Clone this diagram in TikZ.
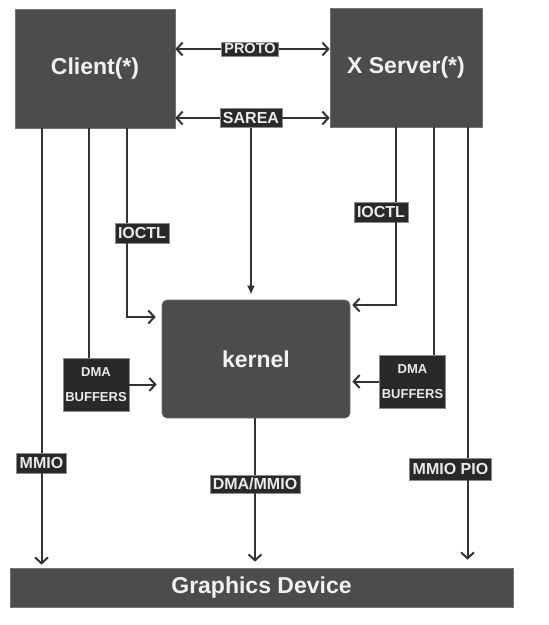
\documentclass[tikz,border=0pt]{standalone}
\usepackage{fontspec}
\setmainfont{Liberation Sans}
\usetikzlibrary{arrows.meta}

\begin{document}
\begin{tikzpicture}[x=1pt, y=-1pt, >={Straight Barb[length=6pt,width=13pt]},
  wire/.style={line width=2pt, black!80},
  bigbox/.style={draw=black!55, line width=0.6pt, fill=black!70, text=white!95!black, font=\bfseries\fontsize{23}{26}\selectfont, inner sep=0pt},
  tag/.style={fill=black!84, draw=black!45, line width=0.5pt, text=white!92!black, font=\bfseries\fontsize{16}{18}\selectfont, inner xsep=3pt, inner ysep=0pt, minimum height=19pt},
  buf/.style={fill=black!84, draw=black!45, line width=0.5pt, text=white!92!black, font=\bfseries\fontsize{13}{25}\selectfont, align=center, inner sep=0pt, minimum width=66pt, minimum height=53pt}]
\useasboundingbox (0,0) rectangle (549,625);

% Main boxes
\node[bigbox, minimum width=160pt, minimum height=119pt] (client) at (95,68.5) {Client(*)};
\node[bigbox, minimum width=152pt, minimum height=119pt] (server) at (406,67.5) {X Server(*)};
\node[bigbox, rounded corners=5pt, minimum width=188pt, minimum height=118pt] (kernel) at (256,359) {kernel};
\node[bigbox, minimum width=503pt, minimum height=39pt] (gfx) at (261.5,587.5) {Graphics Device};

% Labels on the connectors
\node[tag, font=\bfseries\fontsize{14.5}{16}\selectfont, minimum height=14pt] (proto) at (250,49) {PROTO};
\node[tag] (sarea) at (251,118) {SAREA};
\node[tag, minimum height=20pt] (ioctlL) at (142,233) {IOCTL};
\node[tag, minimum height=20pt] (ioctlR) at (381,212) {IOCTL};
\node[buf] (dmaL) at (96,384.5) {DMA\\BUFFERS};
\node[buf] (dmaR) at (412.5,381.5) {DMA\\BUFFERS};
\node[tag, minimum height=20pt] (mmio) at (41.5,463) {MMIO};
\node[tag, minimum height=18pt] (dmammio) at (255,484) {DMA/MMIO};
\node[tag, minimum height=22pt] (mmiopio) at (450.5,469) {MMIO PIO};

% Client <-> X server
\draw[wire, ->] (proto.west) -- (client.east |- proto.west);
\draw[wire, ->] (proto.east) -- (server.west |- proto.east);
\draw[wire, ->] (sarea.west) -- (client.east |- sarea.west);
\draw[wire, ->] (sarea.east) -- (server.west |- sarea.east);
\draw[wire, -{Latex[length=9pt,width=8pt]}, shorten >=5pt] (sarea.south) -- (sarea.south |- kernel.north);

% Client side
\coordinate (tapA) at ([xshift=-15]ioctlL.north);
\coordinate (tapB) at ([xshift=-7]dmaL.north);
\draw[wire] (client.south -| mmio) -- (mmio.north);
\draw[wire, ->, shorten >=3pt] (mmio.south) -- (mmio.south |- gfx.north);
\draw[wire] (client.south -| tapB) -- (tapB);
\draw[wire] (client.south -| tapA) -- (tapA);
\draw[wire, ->, shorten >=6pt] ([xshift=-15]ioctlL.south) |- ([yshift=42]kernel.west);
\draw[wire, ->, shorten >=5pt] (dmaL.east) -- (dmaL.east -| kernel.west);

% Server side
\coordinate (tapC) at ([xshift=15]ioctlR.north);
\coordinate (tapD) at ([xshift=21]dmaR.north);
\coordinate (tapE) at ([xshift=17]mmiopio.north);
\draw[wire] (server.south -| tapC) -- (tapC);
\draw[wire, ->, shorten >=2pt] ([xshift=15]ioctlR.south) |- ([yshift=54]kernel.east);
\draw[wire] (server.south -| tapD) -- (tapD);
\draw[wire, ->, shorten >=2pt] (dmaR.west) -- (dmaR.west -| kernel.east);
\draw[wire] (server.south -| tapE) -- (tapE);
\draw[wire, ->, shorten >=8pt] ([xshift=17]mmiopio.south) -- ([xshift=17]mmiopio.south |- gfx.north);

% Kernel to device
\draw[wire] (kernel.south -| dmammio) -- (dmammio.north);
\draw[wire, ->, shorten >=6pt] (dmammio.south) -- (dmammio.south |- gfx.north);
\end{tikzpicture}
\end{document}
